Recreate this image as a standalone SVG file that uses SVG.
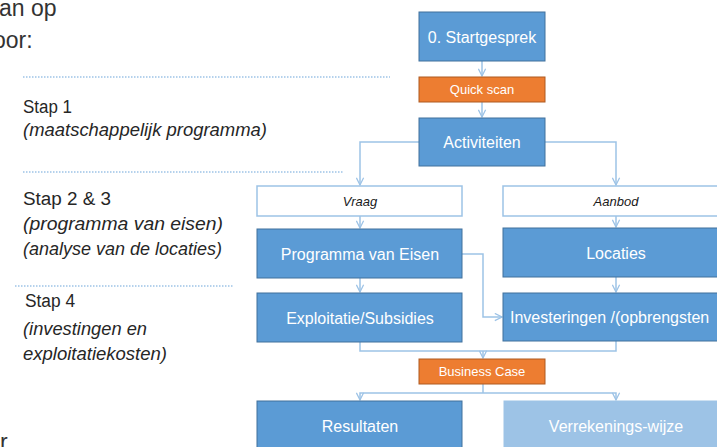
<svg xmlns="http://www.w3.org/2000/svg" width="717" height="447" viewBox="0 0 717 447">
<defs>
<marker id="arr" viewBox="0 0 10 10" refX="9" refY="5" markerWidth="9" markerHeight="9" markerUnits="userSpaceOnUse" orient="auto">
<path d="M1,1 L9,5 L1,9" fill="none" stroke="#9DC3E6" stroke-width="1.4"/>
</marker>
<style>
.side{font-family:"Liberation Sans",Arial,sans-serif;fill:#262626}
.big{font-size:23px;fill:#333}
.step{font-size:18px}
.it{font-size:18px;font-style:italic}
.dot{stroke:#9DC3E6;stroke-width:1.5;stroke-dasharray:1.5 1.5;fill:none}
.blue{fill:#5B9BD5;stroke:#41719C;stroke-width:1}
.light{fill:#9DC3E6;stroke:#9DC3E6;stroke-width:1}
.orange{fill:#ED7D31;stroke:#AE5A21;stroke-width:1}
.white{fill:#fff;stroke:#9DC3E6;stroke-width:1.5}
.t{font-family:"Liberation Sans",Arial,sans-serif;fill:#fff;font-size:16px;text-anchor:middle}
.ts{font-family:"Liberation Sans",Arial,sans-serif;fill:#fff;font-size:13px;text-anchor:middle}
.ti{font-family:"Liberation Sans",Arial,sans-serif;fill:#1a1a1a;font-size:13px;font-style:italic;text-anchor:middle}
.c{fill:none;stroke:#9DC3E6;stroke-width:1.5}
.ca{fill:none;stroke:#9DC3E6;stroke-width:1.5;marker-end:url(#arr)}
</style>
</defs>
<rect width="717" height="447" fill="#fff"/>

<g id="sidebar">
<text class="side big" x="-1" y="16">an op</text>
<text class="side big" x="-7" y="48">oor:</text>
<line class="dot" x1="23" y1="77" x2="390" y2="77"/>
<text class="side step" x="23" y="113" textLength="49" lengthAdjust="spacingAndGlyphs">Stap 1</text>
<text class="side it" x="23" y="136" textLength="244" lengthAdjust="spacingAndGlyphs">(maatschappelijk programma)</text>
<line class="dot" x1="23" y1="172" x2="343" y2="172"/>
<text class="side step" x="23" y="205" textLength="88" lengthAdjust="spacingAndGlyphs">Stap 2 &amp; 3</text>
<text class="side it" x="23" y="230" textLength="200" lengthAdjust="spacingAndGlyphs">(programma van eisen)</text>
<text class="side it" x="23" y="255" textLength="199" lengthAdjust="spacingAndGlyphs">(analyse van de locaties)</text>
<line class="dot" x1="15" y1="286" x2="233" y2="286"/>
<text class="side step" x="25" y="307" textLength="50" lengthAdjust="spacingAndGlyphs">Stap 4</text>
<text class="side it" x="23" y="335" textLength="124" lengthAdjust="spacingAndGlyphs">(investingen en</text>
<text class="side it" x="23" y="360" textLength="144" lengthAdjust="spacingAndGlyphs">exploitatiekosten)</text>
<text class="side big" x="0" y="450">r</text>
</g>

<g id="connectors">
<path class="ca" d="M482,61 V76"/>
<path class="ca" d="M482,102 V117"/>
<path class="ca" d="M419,142 H360 V185"/>
<path class="ca" d="M545,142 H616 V185"/>
<path class="ca" d="M360,216 V228"/>
<path class="ca" d="M616,216 V227"/>
<path class="ca" d="M360,278 V292"/>
<path class="ca" d="M616,277 V292"/>
<path class="ca" d="M462,254 H483 V317 H502"/>
<path class="c" d="M360,342 V351 H616 V341"/>
<path class="ca" d="M483,351 V358"/>
<path class="c" d="M483,384 V393"/>
<path class="ca" d="M483,393 H360 V400"/>
<path class="ca" d="M483,393 H616 V400"/>
</g>

<g id="startgesprek">
<rect class="blue" x="419" y="12" width="126" height="49"/>
<text class="t" x="482" y="43">0. Startgesprek</text>
</g>
<g id="quickscan">
<rect class="orange" x="419" y="77" width="126" height="25"/>
<text class="ts" x="482" y="94">Quick scan</text>
</g>
<g id="activiteiten">
<rect class="blue" x="419" y="118" width="126" height="48"/>
<text class="t" x="482" y="148">Activiteiten</text>
</g>
<g id="vraag">
<rect class="white" x="257" y="186" width="205" height="30"/>
<text class="ti" x="360" y="206">Vraag</text>
</g>
<g id="aanbod">
<rect class="white" x="503" y="186" width="226" height="30"/>
<text class="ti" x="616" y="206">Aanbod</text>
</g>
<g id="pve">
<rect class="blue" x="257" y="229" width="205" height="49"/>
<text class="t" x="360" y="260">Programma van Eisen</text>
</g>
<g id="locaties">
<rect class="blue" x="503" y="228" width="226" height="49"/>
<text class="t" x="616" y="259">Locaties</text>
</g>
<g id="exploitatie">
<rect class="blue" x="257" y="293" width="205" height="49"/>
<text class="t" x="360" y="324">Exploitatie/Subsidies</text>
</g>
<g id="investeringen">
<rect class="blue" x="503" y="293" width="226" height="48"/>
<text class="t" x="510" y="323" style="text-anchor:start">Investeringen /(opbrengsten</text>
</g>
<g id="businesscase">
<rect class="orange" x="419" y="359" width="126" height="25"/>
<text class="ts" x="482" y="376">Business Case</text>
</g>
<g id="resultaten">
<rect class="blue" x="257" y="401" width="205" height="50"/>
<text class="t" x="360" y="432">Resultaten</text>
</g>
<g id="verrekening">
<rect class="light" x="504" y="401" width="225" height="50"/>
<text class="t" x="616" y="432">Verrekenings-wijze</text>
</g>
</svg>
